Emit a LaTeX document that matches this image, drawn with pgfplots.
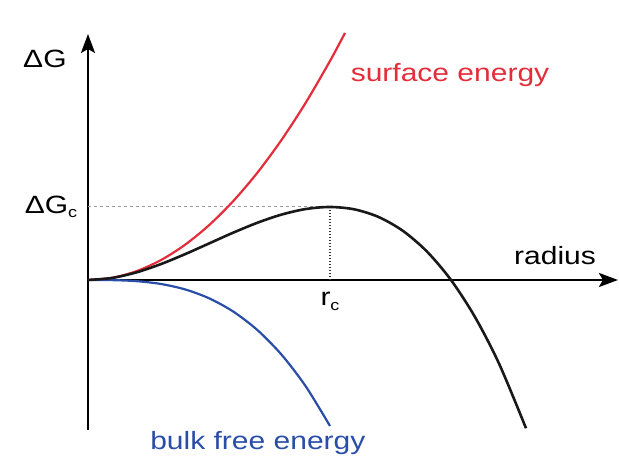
\documentclass[border=0pt]{standalone}
\usepackage{pgfplots}
\pgfplotsset{compat=1.18}
\usepackage{fontspec}
\setmainfont{Liberation Sans}
\usetikzlibrary{arrows.meta}
\definecolor{surfred}{RGB}{228,45,58}
\definecolor{bulkblue}{RGB}{42,78,168}
\newcommand{\lab}[1]{\fontsize{25}{29}\selectfont\scalebox{1.2}[1]{#1}}
\begin{document}
\begin{tikzpicture}
\path[use as bounding box] (0,0) rectangle (619pt,460pt);
\begin{axis}[
  at={(88pt,30pt)}, anchor=south west,
  scale only axis, width=529pt, height=395pt,
  xmin=0, xmax=2.186, ymin=-2.055, ymax=3.356,
  axis lines=none,
  xtick=\empty, ytick=\empty,
  clip=false,
]
% axes
\draw[line width=2.5pt, -{Stealth[length=19pt,width=14pt,inset=4pt]}] (axis cs:0,-2.055) -- (axis cs:0,3.37);
\draw[line width=2.5pt, -{Stealth[length=19pt,width=14pt,inset=4pt]}] (axis cs:0,0) -- (axis cs:2.19,0);
% helper lines
\addplot[gray!80, line width=1pt, dash pattern=on 3pt off 3pt] coordinates {(0,1) (1,1)};
\addplot[black!80, line width=1.4pt, dash pattern=on 1.5pt off 1.5pt] coordinates {(1,1) (1,0)};
% surface energy
\addplot[color=surfred, line width=2.2pt, smooth] coordinates {
(0,0) (0.1,0.03) (0.2,0.12) (0.3,0.27) (0.4,0.48) (0.5,0.75) (0.6,1.08)
(0.7,1.47) (0.8,1.92) (0.9,2.43) (1.0,3.0) (1.062,3.384)};
% bulk free energy
\addplot[color=bulkblue, line width=2.2pt, smooth] coordinates {
(0,0) (0.1,-0.002) (0.2,-0.016) (0.3,-0.054) (0.4,-0.128) (0.5,-0.25)
(0.6,-0.432) (0.7,-0.686) (0.8,-1.024) (0.9,-1.458) (1.0,-2.0)};
% total
\addplot[color=black!90, line width=2.6pt, smooth] coordinates {
(0,0) (0.1,0.028) (0.2,0.104) (0.3,0.216) (0.4,0.352) (0.5,0.5) (0.6,0.648)
(0.7,0.784) (0.8,0.896) (0.9,0.972) (1.0,1.0) (1.1,0.968) (1.2,0.864)
(1.3,0.676) (1.4,0.392) (1.5,0) (1.6,-0.512) (1.7,-1.156) (1.81,-2.031)};
% labels
\node[anchor=center] at (axis cs:-0.178,3.03) {\lab{ΔG}};
\node[anchor=east] at (axis cs:-0.03,1.0) {\lab{ΔG\raisebox{-0.35ex}{\fontsize{15}{15}\selectfont c}}};
\node[anchor=north] at (axis cs:1.0,-0.12) {\lab{r\raisebox{-0.35ex}{\fontsize{15}{15}\selectfont c}}};
\node[anchor=center] at (axis cs:1.93,0.34) {\lab{radius}};
\node[anchor=center, text=surfred] at (axis cs:1.496,2.81) {\lab{surface energy}};
\node[anchor=center, text=bulkblue] at (axis cs:0.702,-2.23) {\lab{bulk free energy}};
\end{axis}
\end{tikzpicture}
\end{document}
